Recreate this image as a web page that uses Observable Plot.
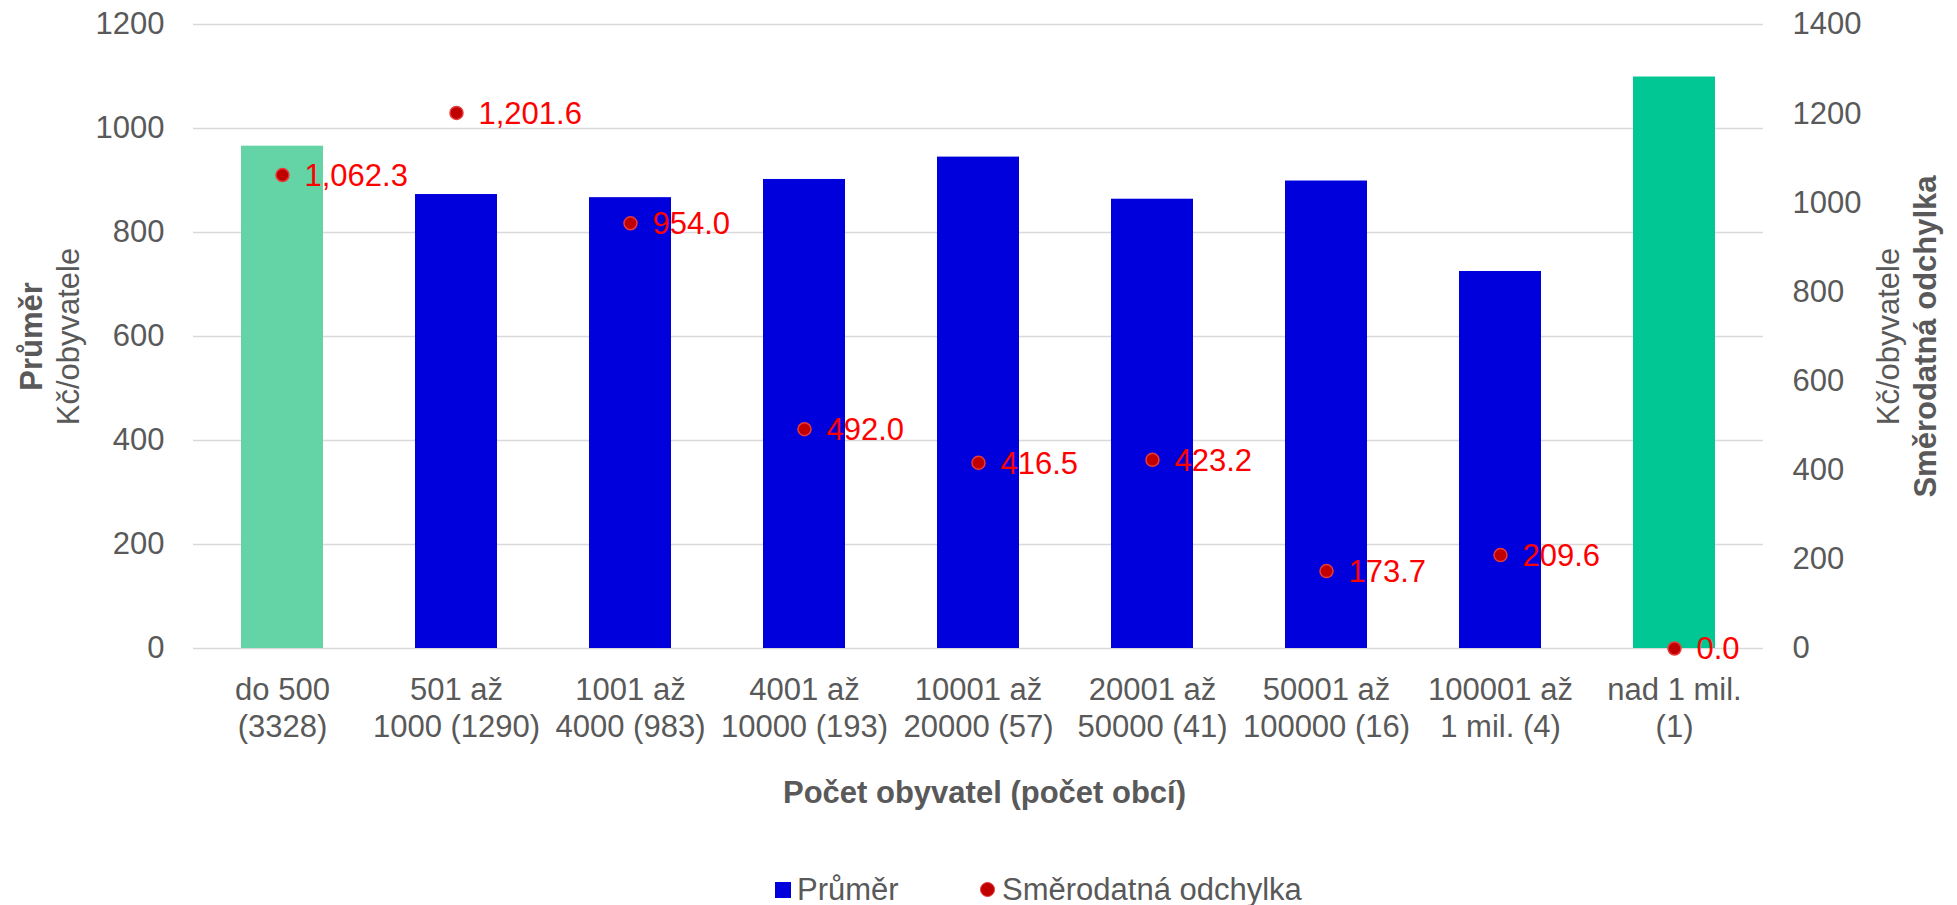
<!DOCTYPE html>
<html>
<head>
<meta charset="utf-8">
<script src="https://cdn.jsdelivr.net/npm/d3@7"></script>
<script src="https://cdn.jsdelivr.net/npm/@observablehq/plot@0.6"></script>
<style>
  html, body { margin: 0; padding: 0; background: #ffffff; }
  body { width: 1957px; height: 905px; position: relative; overflow: hidden;
         font-family: "Liberation Sans", Arial, sans-serif; color: #595959; }
  #chart { position: absolute; left: 0; top: 0; }
  .legend { position: absolute; top: 872px; height: 36px; line-height: 36px; font-size: 31px; color: #595959; white-space: nowrap; }
  .sw-bar { position: absolute; width: 16px; height: 16px; background: #0000DC; }
  .sw-dot { position: absolute; width: 13px; height: 13px; border-radius: 50%; background: #C00000; border: 1.5px solid #E83A3A; }
</style>
</head>
<body>
<div id="chart"></div>
<div class="sw-bar" style="left:775px; top:882px;"></div>
<div class="legend" style="left:797px;">Průměr</div>
<div class="sw-dot" style="left:980px; top:882px;"></div>
<div class="legend" style="left:1002px;">Směrodatná odchylka</div>
<script>
// ---- data ----
const categories = [
  "do 500\n(3328)",
  "501 až\n1000 (1290)",
  "1001 až\n4000 (983)",
  "4001 až\n10000 (193)",
  "10001 až\n20000 (57)",
  "20001 až\n50000 (41)",
  "50001 až\n100000 (16)",
  "100001 až\n1 mil. (4)",
  "nad 1 mil.\n(1)"
];
const prumer = [966, 873, 867, 902, 945, 864, 899, 725, 1099];
const odchylka = [1062.3, 1201.6, 954.0, 492.0, 416.5, 423.2, 173.7, 209.6, 0.0];
const leftTicks = [0, 200, 400, 600, 800, 1000, 1200];
const rightTicks = [0, 200, 400, 600, 800, 1000, 1200, 1400];
const xTitle = "Počet obyvatel (počet obcí)";
const leftTitleBold = "Průměr";
const leftTitle = "Kč/obyvatele";
const rightTitle = "Kč/obyvatele";
const rightTitleBold = "Směrodatná odchylka";

// ---- build ----
const rows = categories.map((c, i) => ({cat: c, prumer: prumer[i], sd: odchylka[i], i}));
const k = 1200 / 1400; // right axis (0–1400) onto left axis (0–1200)
const n = categories.length;
const fillFor = d => d.i === 0 ? "#64D3A5" : d.i === n - 1 ? "#00C794" : "#0000DC";
const fmt = d3.format(",.1f");
const font = "'Liberation Sans', Arial, sans-serif";

const chart = Plot.plot({
  width: 1957,
  height: 830,
  marginTop: 24,
  marginBottom: 182,
  marginLeft: 193,
  marginRight: 194,
  style: {fontFamily: font, fontSize: "31px", color: "#595959", background: "#ffffff"},
  x: {domain: categories, paddingInner: 0.53, paddingOuter: 0.265, axis: null},
  y: {domain: [0, 1200], axis: null},
  marks: [
    Plot.gridY(leftTicks, {stroke: "#D9D9D9", strokeOpacity: 1, strokeWidth: 1.4}),
    Plot.barY(rows, {x: "cat", y: "prumer", fill: fillFor}),
    Plot.axisY(leftTicks, {anchor: "left", tickSize: 0, tickPadding: 29, fontSize: 31, label: null,
      tickFormat: v => String(v)}),
    Plot.axisY(rightTicks.map(t => t * k), {anchor: "right", tickSize: 0, tickPadding: 29, fontSize: 31, label: null,
      tickFormat: v => String(Math.round(v / k))}),
    Plot.axisX({anchor: "bottom", tickSize: 0, tickPadding: 26, fontSize: 31, lineHeight: 1.18, label: null}),
    Plot.dot(rows, {x: "cat", y: d => d.sd * k, r: 6.5, fill: "#C00000", stroke: "#E83A3A", strokeWidth: 1.5}),
    Plot.text(rows, {x: "cat", y: d => d.sd * k, text: d => fmt(d.sd), textAnchor: "start", dx: 22, dy: 1,
      fill: "#FF0000", fontSize: 31}),
    Plot.text([xTitle], {text: d => d, frameAnchor: "bottom", textAnchor: "middle", dx: 6, dy: 154, fontWeight: "bold", fontSize: 31, fill: "#595959"}),
    Plot.text([leftTitleBold], {text: d => d, frameAnchor: "left", textAnchor: "middle", dx: -161, rotate: -90, fontWeight: "bold", fontSize: 31, fill: "#595959"}),
    Plot.text([leftTitle], {text: d => d, frameAnchor: "left", textAnchor: "middle", dx: -124, rotate: -90, fontSize: 31, fill: "#595959"}),
    Plot.text([rightTitle], {text: d => d, frameAnchor: "right", textAnchor: "middle", dx: 126, rotate: -90, fontSize: 31, fill: "#595959"}),
    Plot.text([rightTitleBold], {text: d => d, frameAnchor: "right", textAnchor: "middle", dx: 163, rotate: -90, fontWeight: "bold", fontSize: 31, fill: "#595959"})
  ]
});
document.getElementById("chart").appendChild(chart);
</script>
</body>
</html>
